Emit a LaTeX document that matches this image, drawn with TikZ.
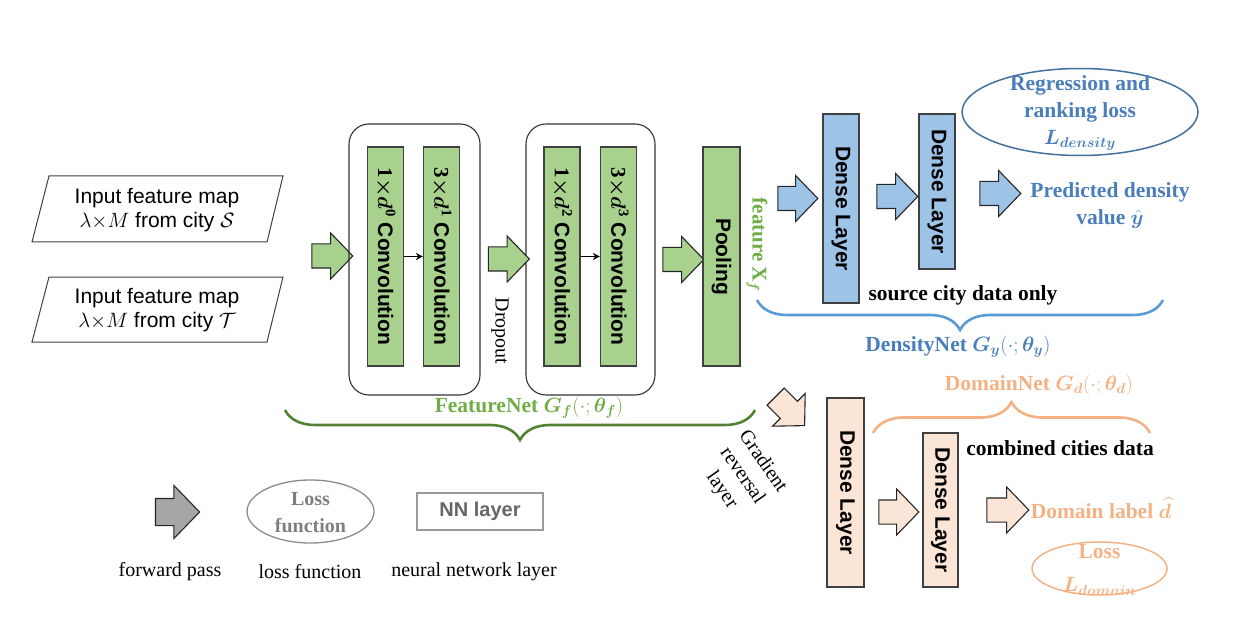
\documentclass[tikz,border=0pt]{standalone}
\usepackage{amsmath,bm}
\usepackage{fontspec}
\setmainfont{Liberation Serif}
\setsansfont{Liberation Sans}
\usetikzlibrary{shapes.arrows,shapes.geometric,decorations.pathreplacing,arrows.meta}
\definecolor{grnfill}{HTML}{A9D18E}
\definecolor{bluefill}{HTML}{9DC3E6}
\definecolor{peachfill}{HTML}{FBE5D6}
\definecolor{grntxt}{HTML}{70AD47}
\definecolor{grnbrace}{HTML}{548235}
\definecolor{bluetxt}{HTML}{4A7EBB}
\definecolor{bluebrace}{HTML}{5B9BD5}
\definecolor{blueline}{HTML}{41719C}
\definecolor{peachtxt}{HTML}{F4B183}
\definecolor{legray}{HTML}{7F7F7F}
\newcommand\layerfont{\sffamily\bfseries\fontsize{21}{24}\selectfont}
\newcommand\lblfont{\rmfamily\bfseries\fontsize{21.5}{27}\selectfont}
\newcommand\plainfont{\rmfamily\fontsize{20}{25}\selectfont}
\newcommand\inputfont{\sffamily\fontsize{21}{24}\selectfont}
\begin{document}
\begin{tikzpicture}[x=1pt,y=-1pt,
  layer/.style={draw=black!75, line width=1.1pt, inner sep=0pt, font=\layerfont, text=black, rotate=-90},
  greenbar/.style={layer, fill=grnfill, minimum width=219, minimum height=36},
  bluebar/.style={layer, fill=bluefill, minimum height=36},
  peachbar/.style={layer, fill=peachfill, minimum height=36},
  fat/.style={single arrow, draw=black!85, line width=1.1pt, inner xsep=0pt, inner ysep=11.5pt, minimum height=41, minimum width=45, single arrow head extend=11, single arrow tip angle=92},
  block/.style={draw=black!80, line width=1.1pt, rounded corners=20, inner sep=0pt},
  lbl/.style={font=\lblfont, align=center, inner sep=0pt},
  plain/.style={font=\plainfont, align=center, inner sep=0pt},
  bracestyle/.style={decorate, decoration={brace, amplitude=#1}, line width=2.6pt},
  lossell/.style={ellipse, line width=1.5pt, inner sep=0pt}
]
\useasboundingbox (0,0) rectangle (1236,636);

% inputs
\draw[line width=1pt, black!75] (49,176) -- (283,176) -- (267,242) -- (32,242) -- cycle;
\node[font=\inputfont, align=center, inner sep=0pt] (in1) at (157,210) {Input feature map\\$\lambda{\times}M$ from city $\mathcal{S}$};
\draw[line width=1pt, black!75] (49,277) -- (283,277) -- (267,342) -- (32,342) -- cycle;
\node[font=\inputfont, align=center, inner sep=0pt] (in2) at (157,310) {Input feature map\\$\lambda{\times}M$ from city $\mathcal{T}$};

% feature net
\node[fat, fill=grnfill] (a1) at (326.5,256) {};
\node[block, minimum width=131, minimum height=271] (blk1) at (414.5,259.5) {};
\node[block, minimum width=129, minimum height=271] (blk2) at (590.5,259.5) {};
\node[greenbar] (c0) at (385.5,256.5) {{\rmfamily 1}$\bm{\times d}^{\mathbf{0}}$ Convolution};
\node[greenbar] (c1) at (441.5,256.5) {{\rmfamily 3}$\bm{\times d}^{\mathbf{1}}$ Convolution};
\node[greenbar] (c2) at (562,256.5) {{\rmfamily 1}$\bm{\times d}^{\mathbf{2}}$ Convolution};
\node[greenbar] (c3) at (618.5,256.5) {{\rmfamily 3}$\bm{\times d}^{\mathbf{3}}$ Convolution};
\draw[-{Stealth[length=7pt,width=7pt]}, line width=1.6pt] (c0.north) -- (c1.south);
\draw[-{Stealth[length=7pt,width=7pt]}, line width=1.6pt] (c2.north) -- (c3.south);
\node[fat, fill=grnfill] (a2) at (503,259) {};
\node[plain, rotate=-90] (drop) at (500,331) {Dropout};
\node[fat, fill=grnfill] (a3) at (677.5,259.5) {};
\node[greenbar, minimum height=37] (pool) at (721.5,256.5) {Pooling};
\node[lbl, rotate=-90, text=grntxt, font=\rmfamily\bfseries\fontsize{21}{24}\selectfont] (fx) at (757,245) {feature X$_{\bm f}$};

% braces
\draw[bracestyle=30, grnbrace] (755,410) -- (285,410);
\node[lbl, text=grntxt] (fnet) at (529,408) {FeatureNet $\bm{G_f}(\cdot;\bm{\theta_f})$};
\draw[bracestyle=30, bluebrace] (1163,300) -- (757,300);
\node[lbl, text=bluetxt] (dnet) at (958,347) {DensityNet $\bm{G_y}(\cdot;\bm{\theta_y})$};
\draw[bracestyle=31, peachtxt] (873,433) -- (1150,433);
\node[lbl, text=peachtxt] (mnet) at (1039,385) {DomainNet $\bm{G_d}(\cdot;\bm{\theta_d})$};

% density net
\node[fat, fill=bluefill, minimum height=40] (b1) at (792,198.5) {};
\node[bluebar, minimum width=189] (d1) at (841,208.5) {Dense Layer};
\node[fat, fill=bluefill] (b2) at (891.5,196.5) {};
\node[bluebar, minimum width=155] (d2) at (937,191.5) {Dense Layer};
\node[fat, fill=bluefill] (b3) at (994.5,193.5) {};
\node[lbl, text=bluetxt] (pred) at (1110,206) {Predicted density\\value $\bm{\hat{y}}$};
\node[lossell, draw=blueline, minimum width=236, minimum height=87] (lossD) at (1080,112) {};
\node[lbl, text=bluetxt] (lossDt) at (1080,113) {Regression and\\ranking loss\\$\bm{L_{density}}$};
\node[lbl] (src) at (963,295) {source city data only};

% domain net
\node[fat, fill=peachfill, rotate=-45] (g) at (786,407) {};
\node[plain, rotate=-55] (grl) at (742,476) {Gradient\\reversal\\layer};
\node[peachbar, minimum width=189, minimum height=37] (e1) at (845.5,492.5) {Dense Layer};
\node[fat, fill=peachfill, minimum height=40] (p1) at (893,512) {};
\node[peachbar, minimum width=154, minimum height=35] (e2) at (940.5,510) {Dense Layer};
\node[fat, fill=peachfill, minimum height=42] (p2) at (1002,510) {};
\node[lbl] (comb) at (1060,448) {combined cities data};
\node[lbl, text=peachtxt] (dlab) at (1101,508) {Domain label $\bm{\widehat{d}}$};
\node[lossell, draw=peachtxt, minimum width=135, minimum height=53] (lossd) at (1099.5,568.5) {};
\node[lbl, text=peachtxt, font=\rmfamily\bfseries\fontsize{21.5}{33}\selectfont] (lossdt) at (1099.5,570) {Loss\\$\bm{L_{domain}}$};

% legend
\node[fat, fill=black!35, minimum height=44, minimum width=52, inner ysep=13pt, single arrow head extend=13] (lg1) at (171,512) {};
\node[lossell, draw=black!45, line width=1.3pt, minimum width=127, minimum height=63] (lg2) at (310.5,511.5) {};
\node[lbl, text=legray, font=\rmfamily\bfseries\fontsize{20}{27}\selectfont] (lg2t) at (310.5,513) {Loss\\function};
\node[draw=black!40, line width=1.1pt, minimum width=126, minimum height=37, inner sep=0pt, text=black!60, font=\sffamily\bfseries\fontsize{20}{24}\selectfont] (lg3) at (480,511.5) {NN layer};
\node[plain] (lt1) at (170,572) {forward pass};
\node[plain] (lt2) at (310,572) {loss function};
\node[plain] (lt3) at (474,572) {neural network layer};
\end{tikzpicture}
\end{document}
